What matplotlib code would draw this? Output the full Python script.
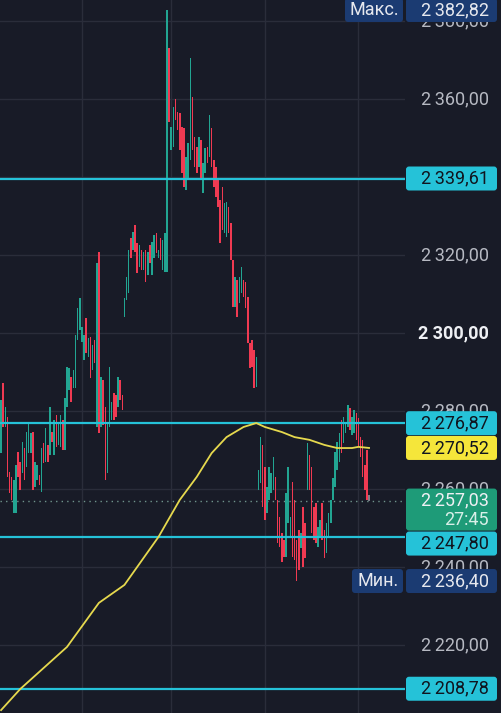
import matplotlib
matplotlib.use('Agg')
import matplotlib.pyplot as plt
import matplotlib.transforms as mtransforms
from matplotlib.patches import FancyBboxPatch
import numpy as np

plt.rcParams['font.family'] = ['Roboto', 'DejaVu Sans']

# ---- data ----
opens = [
    2269.2, 2287.2, 2275.9, 2278.5, 2264.3, 2263.1, 2253.8, 2253.8, 2269.5, 2266.9,
    2264.1, 2270.5, 2265.6, 2269.2, 2269.2, 2274.6, 2260.5, 2262.3, 2263.6, 2259.2,
    2271.8, 2266.9, 2271.3, 2268.7, 2274.6, 2268.7, 2279.0, 2271.3,
    2270.8, 2277.7, 2270.0, 2281.0, 2285.4, 2288.7, 2285.9, 2285.9, 2298.2, 2300.8,
    2297.7, 2293.1, 2303.8, 2293.8, 2299.0, 2290.5, 2298.2, 2275.9, 2320.8, 2275.9,
    2287.9, 2281.0, 2264.1, 2275.9, 2277.7, 2284.6, 2284.1, 2281.0, 2287.9, 2284.1,
    2304.1, 2308.5, 2310.3, 2324.4, 2321.3, 2327.7, 2323.1, 2316.9, 2321.3, 2316.2,
    2321.3, 2314.9, 2322.6, 2314.9, 2319.2, 2325.6, 2319.2, 2324.4, 2316.2, 2315.6,
    2315.6, 2373.1, 2347.0, 2347.7, 2360.0, 2356.7, 2356.4, 2352.8, 2352.6, 2336.7,
    2339.2, 2344.4, 2360.5, 2350.3, 2347.7, 2342.6, 2349.5, 2335.9, 2341.0, 2347.7,
    2345.1, 2352.6, 2344.4, 2342.6, 2339.2, 2334.1, 2337.4, 2325.6, 2324.6, 2332.3,
    2328.2, 2318.7, 2306.7, 2313.6, 2307.7, 2310.3, 2313.6, 2313.1, 2309.2, 2297.4,
    2298.2, 2295.6, 2286.2,
    2259.7, 2261.5, 2271.3, 2265.6, 2253.8, 2257.2, 2259.0, 2259.7, 2263.1, 2257.2,
    2252.8, 2248.7, 2246.9, 2242.6, 2251.3, 2247.7, 2261.8, 2257.2, 2246.9, 2249.5,
    2244.9, 2255.4, 2251.3, 2259.7, 2268.7, 2265.6, 2255.4, 2256.4, 2245.1, 2247.7,
    2256.4, 2249.5, 2243.6, 2247.7, 2251.3, 2257.2, 2260.5, 2264.9, 2266.9, 2277.7,
    2271.8, 2274.4, 2275.9, 2280.8, 2273.8, 2274.4, 2279.5, 2278.2, 2273.3, 2272.6,
    2266.2, 2270.0, 2258.5,
]
closes = [
    2282.8, 2275.9, 2281.0, 2263.1, 2259.0, 2257.2, 2262.3, 2266.2, 2263.1, 2259.7,
    2272.1, 2262.3, 2274.6, 2276.9, 2274.4, 2259.7, 2266.9, 2266.2, 2261.0, 2270.5,
    2266.7, 2275.6, 2266.9, 2281.0, 2272.1, 2277.7, 2270.8, 2277.2,
    2279.0, 2270.0, 2283.3, 2291.3, 2291.0, 2282.3, 2290.5, 2299.5, 2306.4, 2309.0,
    2301.5, 2299.5, 2294.9, 2298.7, 2288.5, 2296.9, 2292.3, 2317.9, 2274.4, 2288.7,
    2276.4, 2262.3, 2276.9, 2291.3, 2282.3, 2277.7, 2278.5, 2288.7, 2282.8, 2280.3,
    2309.0, 2314.4, 2321.3, 2319.2, 2325.9, 2320.8, 2315.4, 2322.6, 2316.2, 2320.8,
    2313.1, 2320.8, 2317.9, 2323.3, 2325.1, 2320.5, 2321.3, 2318.7, 2323.8, 2325.6,
    2382.8, 2354.1, 2352.8, 2357.9, 2354.6, 2352.0, 2346.9, 2341.0, 2337.4, 2345.1,
    2348.7, 2370.5, 2346.9, 2342.6, 2341.0, 2350.3, 2339.2, 2343.6, 2347.4, 2343.6,
    2355.9, 2342.6, 2337.4, 2334.9, 2332.3, 2323.1, 2326.4, 2333.3, 2333.6, 2325.6,
    2318.7, 2306.7, 2314.4, 2304.1, 2314.4, 2316.9, 2309.2, 2306.4, 2297.4, 2291.0,
    2291.3, 2285.9, 2293.8,
    2264.9, 2273.3, 2255.4, 2252.0, 2260.5, 2265.6, 2264.1, 2268.2, 2257.2, 2246.2,
    2245.1, 2241.3, 2242.6, 2259.0, 2265.6, 2252.8, 2242.6, 2241.8, 2236.4, 2239.2,
    2248.7, 2240.0, 2242.3, 2271.8, 2259.7, 2248.7, 2246.9, 2246.2, 2250.3, 2252.0,
    2246.9, 2242.3, 2251.3, 2253.8, 2257.2, 2262.8, 2269.5, 2272.1, 2274.4, 2269.2,
    2278.5, 2277.2, 2281.5, 2275.1, 2278.5, 2280.3, 2272.6, 2270.8, 2268.2, 2263.1,
    2259.7, 2257.2, 2257.03,
]

# moving average, sampled at candle indices
ma_idx = [0, 9, 31, 46, 58, 74, 84, 92, 99, 106, 114, 120, 124, 132, 138, 145, 152, 158, 165, 168, 173]
ma_vals = [2203.3, 2208.7, 2219.5, 2230.8, 2235.4, 2247.7, 2257.2, 2263.1, 2269.2, 2273.3,
           2275.9, 2276.9, 2275.9, 2274.6, 2273.3, 2272.6, 2271.3, 2270.5, 2270.5, 2270.8, 2270.52]

level_lines = [2339.61, 2276.87, 2247.80, 2208.78]
price_ticks = [2380, 2360, 2340, 2320, 2300, 2280, 2260, 2240, 2220]
time_grid_idx = [38, 80, 124, 168]
last_price = 2257.03
countdown = '27:45'
max_price = 2382.82
min_price = 2236.40
ma_last = 2270.52

# ---- style ----
BG = '#181b27'
GRID = '#2a2d3a'
UP = '#22a592'
DOWN = '#f03a52'
CYAN = '#25c2d8'
YELLOW = '#f5e63a'
NAVY = '#1b3b72'
GREEN_TAG = '#1e9b78'
TICK_COL = '#b6b9c2'

W, H = 501, 713
AX_W = 405


def fmt(v):
    s = '{:,.2f}'.format(v)
    return s.replace(',', '\u202f').replace('.', ',')


fig = plt.figure(figsize=(W / 100, H / 100), dpi=100, facecolor=BG)
ax = fig.add_axes([0, 0, AX_W / W, 1])
ax.set_facecolor(BG)
ax.set_xlim(-0.5, 189.9)
ax.set_ylim(2202.56, 2385.38)
for s in ax.spines.values():
    s.set_visible(False)
ax.set_xticks([])
ax.set_yticks([])

# grid
for t in price_ticks:
    ax.axhline(t, color=GRID, lw=1.0, zorder=0)
for t in time_grid_idx:
    ax.axvline(t, color=GRID, lw=1.0, zorder=0)

# candles
o = np.array(opens)
c = np.array(closes)
idx = np.arange(len(o))
cols = [UP if cc >= oo else DOWN for oo, cc in zip(o, c)]
cols[-1] = '#7d808a'
ax.bar(idx, c - o, bottom=o, width=0.72, color=cols, zorder=3)

# horizontal levels
for lv in level_lines:
    ax.axhline(lv, color=CYAN, lw=1.6, zorder=4)
ax.axhline(last_price, color='#6f948c', lw=1.0, ls=(0, (1, 3)), zorder=2)

# moving average
ax.plot(ma_idx, ma_vals, color='#e6d94e', lw=1.3, zorder=5)

# ---- right price scale ----
def ypx(v):
    return ax.transData.transform((0, v))[1]

ident = mtransforms.IdentityTransform()

for t in price_ticks:
    bold = t == 2300
    fig.text(489, ypx(t), fmt(t), transform=ident, ha='right', va='center',
             fontsize=13, color='#eef0f4' if bold else TICK_COL,
             fontweight='bold' if bold else 'normal', zorder=1)


def tag(yc, text, fc, tc, x0=406, x1=497, h=24, tx=489, ha='right'):
    box = FancyBboxPatch((x0, yc - h / 2), x1 - x0, h,
                         boxstyle='round,pad=0,rounding_size=3',
                         fc=fc, ec='none', transform=ident, zorder=10)
    fig.patches.append(box)
    fig.text(tx, yc, text, transform=ident, ha=ha, va='center',
             fontsize=13, color=tc, zorder=11)


tag(ypx(max_price), fmt(max_price), NAVY, '#e6e8ee')
tag(ypx(max_price), 'Макс.', NAVY, '#e6e8ee', x0=345, x1=403, tx=374, ha='center')
tag(ypx(2339.61), fmt(2339.61), CYAN, '#10151f')
tag(ypx(2276.87), fmt(2276.87), CYAN, '#10151f')
tag(ypx(ma_last), fmt(ma_last), YELLOW, '#10151f')

# last price + countdown
y0 = ypx(last_price)
box = FancyBboxPatch((406, y0 - 30), 91, 42, boxstyle='round,pad=0,rounding_size=3',
                     fc=GREEN_TAG, ec='none', transform=ident, zorder=10)
fig.patches.append(box)
fig.text(489, y0, fmt(last_price), transform=ident, ha='right', va='center',
         fontsize=13, color='#eef0f4', zorder=11)
fig.text(489, y0 - 19, countdown, transform=ident, ha='right', va='center',
         fontsize=13, color='#d8efe8', zorder=11)

tag(y0 - 43, fmt(2247.80), CYAN, '#10151f')
tag(ypx(min_price), fmt(min_price), NAVY, '#e6e8ee')
tag(ypx(min_price), 'Мин.', NAVY, '#e6e8ee', x0=352, x1=403, tx=378, ha='center')
tag(ypx(2208.78), fmt(2208.78), CYAN, '#10151f')

fig.savefig('out.png', dpi=100, facecolor=BG)
